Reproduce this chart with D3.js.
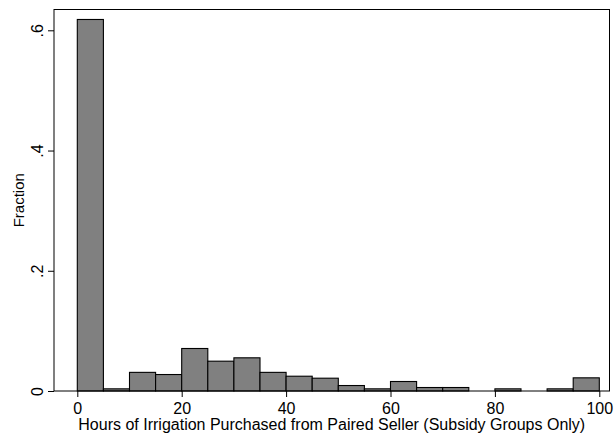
<!DOCTYPE html>
<html>
<head>
<meta charset="utf-8">
<script src="https://cdn.jsdelivr.net/npm/d3@7"></script>
<style>
  html, body { margin: 0; padding: 0; background: #fff; }
  svg { display: block; }
  text { font-family: "Liberation Sans", Arial, Helvetica, sans-serif; fill: #000; }
</style>
</head>
<body>
<svg id="chart" width="616" height="435"></svg>
<script>
// Histogram bins: hours purchased, 5-hour bins from 0 to 100
const binStarts = [0, 5, 10, 15, 20, 25, 30, 35, 40, 45, 50, 55, 60, 65, 70, 75, 80, 85, 90, 95];
const binWidth = 5;
const fractions = [0.618, 0.0036, 0.031, 0.0274, 0.0707, 0.0496, 0.0552, 0.031, 0.0246, 0.0213,
                   0.0091, 0.0036, 0.0158, 0.0058, 0.0058, 0, 0.0036, 0, 0.0036, 0.0219];
const xTicks = [0, 20, 40, 60, 80, 100];
const yTicks = [0, 0.2, 0.4, 0.6];
const yTickLabels = ["0", ".2", ".4", ".6"];
const xTitle = "Hours of Irrigation Purchased from Paired Seller (Subsidy Groups Only)";
const yTitle = "Fraction";

const svg = d3.select("#chart");
const box = { left: 54, top: 9.5, right: 609.5, bottom: 391 };
const fontSize = 16;

const x = d3.scaleLinear().domain([0, 100]).range([77.3, 599.3]);
const y = d3.scaleLinear().domain([0, 0.6]).range([391, 30.3]);

const bins = binStarts.map((s, i) => ({ x0: s, x1: s + binWidth, v: fractions[i] }));

// Bars
svg.append("g")
  .selectAll("rect")
  .data(bins.filter(d => d.v > 0))
  .join("rect")
  .attr("x", d => x(d.x0))
  .attr("y", d => y(d.v))
  .attr("width", d => x(d.x1) - x(d.x0))
  .attr("height", d => y(0) - y(d.v))
  .attr("fill", "#808080")
  .attr("stroke", "#000")
  .attr("stroke-width", 1.1);

// Plot frame
svg.append("rect")
  .attr("x", box.left).attr("y", box.top)
  .attr("width", box.right - box.left).attr("height", box.bottom - box.top)
  .attr("fill", "none").attr("stroke", "#000").attr("stroke-width", 1);

// X axis
const xAxis = d3.axisBottom(x).tickValues(xTicks).tickSize(6).tickFormat(d3.format("d"));
const gx = svg.append("g").attr("transform", `translate(0,${box.bottom})`).call(xAxis);
gx.select(".domain").remove();
gx.selectAll("line").attr("stroke", "#000");
gx.selectAll("text")
  .attr("font-size", fontSize)
  .attr("font-family", "Liberation Sans, Arial, sans-serif")
  .attr("dy", null)
  .attr("y", 22.5);

// Y axis with rotated tick labels
const yAxis = d3.axisLeft(y).tickValues(yTicks).tickSize(6)
  .tickFormat((d, i) => yTickLabels[i]);
const gy = svg.append("g").attr("transform", `translate(${box.left},0)`).call(yAxis);
gy.select(".domain").remove();
gy.selectAll("line").attr("stroke", "#000");
gy.selectAll("text")
  .attr("font-size", fontSize)
  .attr("font-family", "Liberation Sans, Arial, sans-serif")
  .attr("x", null).attr("dy", null)
  .attr("text-anchor", "middle")
  .attr("transform", "translate(-11,0) rotate(-90)");

// Axis titles
svg.append("text")
  .attr("x", (box.left + box.right) / 2)
  .attr("y", 430)
  .attr("text-anchor", "middle")
  .attr("font-size", fontSize)
  .text(xTitle);

svg.append("text")
  .attr("transform", `translate(24,${(box.top + box.bottom) / 2}) rotate(-90)`)
  .attr("text-anchor", "middle")
  .attr("font-size", 15)
  .text(yTitle);
</script>
</body>
</html>
